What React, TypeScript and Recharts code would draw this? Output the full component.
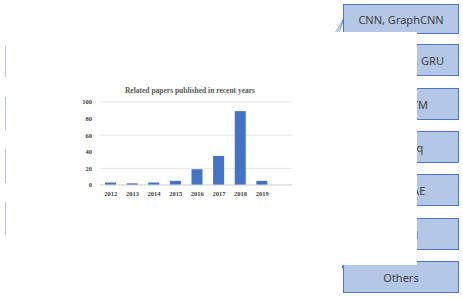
import { BarChart, Bar, XAxis, YAxis, CartesianGrid } from 'recharts'

const years = ['2012', '2013', '2014', '2015', '2016', '2017', '2018', '2019']
const papers = [3, 2, 3, 5, 19, 35, 89, 5]
const yTicks = [0, 20, 40, 60, 80, 100]
const boxLabels = ['CNN, GraphCNN', 'RNN, LSTM, GRU', 'ConvLSTM', 'Seq2Seq', 'GAN, VAE', 'Hybrid', 'Others']

const data = years.map((name, i) => ({ name, value: papers[i] }))

const BOX_TOPS = [4, 44, 88, 131, 174, 218, 261]
const BOX_HEIGHTS = [30, 32, 32, 32, 32, 32, 32]
const LEFT_LINES = [[46, 77], [97, 130], [149, 183], [202, 235]]

const tickStyle = {
  fill: '#404040',
  fontSize: 6.5,
  fontWeight: 700,
  fontFamily: '"Liberation Serif", "Times New Roman", serif',
}

export default function App() {
  return (
    <div style={{ position: 'absolute', left: 0, top: 0, width: 463, height: 300, background: '#fff', overflow: 'hidden' }}>
      {boxLabels.map((label, i) => (
        <div
          key={label}
          style={{
            position: 'absolute',
            left: 343,
            top: BOX_TOPS[i],
            width: 116,
            height: BOX_HEIGHTS[i],
            background: '#b4c7e7',
            border: '1px solid #4f76c2',
            boxSizing: 'border-box',
            display: 'flex',
            alignItems: 'center',
            justifyContent: 'center',
            fontFamily: '"Noto Sans", sans-serif',
            fontSize: 11,
            color: '#404040',
            whiteSpace: 'nowrap',
          }}
        >
          {label}
        </div>
      ))}
      {LEFT_LINES.map(([a, b]) => (
        <div key={a} style={{ position: 'absolute', left: 5, top: a, width: 1.5, height: b - a, background: '#b8c4dc' }} />
      ))}
      <svg style={{ position: 'absolute', left: 330, top: 0 }} width={20} height={300}>
        <g stroke="#4f76c2" strokeWidth={0.6}>
          <line x1={5} y1={33} x2={13} y2={20} />
          <line x1={7} y1={33} x2={13} y2={21} />
          <line x1={9} y1={33} x2={13} y2={22} />
          <line x1={10} y1={258} x2={13} y2={266} />
          <line x1={12} y1={258} x2={14} y2={266} />
        </g>
        <circle cx={13} cy={21} r={1.2} fill="#4f76c2" />
        <circle cx={13} cy={267} r={1.2} fill="#4f76c2" />
      </svg>
      <div style={{ position: 'absolute', left: 6, top: 32, width: 411, height: 233, background: '#fff' }} />
      <div
        style={{
          position: 'absolute',
          left: 80,
          top: 86,
          width: 220,
          textAlign: 'center',
          fontFamily: '"Liberation Serif", serif',
          fontWeight: 700,
          fontSize: 7.5,
          color: '#595959',
        }}
      >
        Related papers published in recent years
      </div>
      <div style={{ position: 'absolute', left: 80, top: 80 }}>
        <BarChart width={220} height={125} data={data} margin={{ top: 22, right: 8, left: 0, bottom: 0 }}>
          <CartesianGrid vertical={false} stroke="#d9d9d9" strokeWidth={0.7} />
          <XAxis
            dataKey="name"
            height={20}
            tick={tickStyle}
            tickLine={false}
            tickSize={4}
            axisLine={{ stroke: '#d9d9d9' }}
            padding={{ left: 0, right: 19 }}
            interval={0}
          />
          <YAxis
            width={20}
            domain={[0, 100]}
            ticks={yTicks}
            tick={tickStyle}
            tickLine={false}
            axisLine={false}
            tickSize={3}
            tickMargin={5}
          />
          <Bar dataKey="value" fill="#4472c4" barSize={11} isAnimationActive={false} />
        </BarChart>
      </div>
    </div>
  )
}
